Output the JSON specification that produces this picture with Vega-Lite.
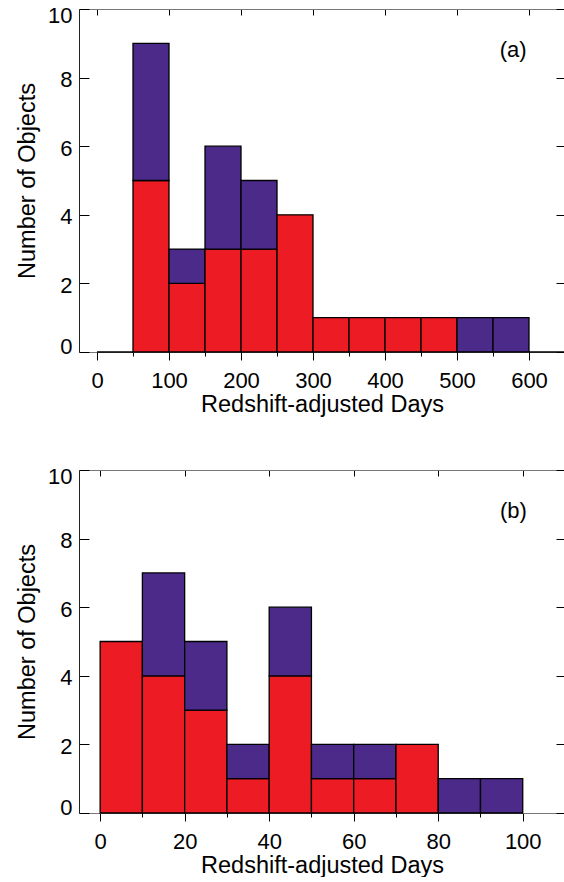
{
  "$schema": "https://vega.github.io/schema/vega-lite/v6.json",
  "background": "white",
  "padding": {"left": 15, "top": 4, "right": 0, "bottom": 0},
  "bounds": "flush",
  "spacing": 118,
  "config": {
    "view": {"stroke": null},
    "font": "Liberation Sans",
    "axis": {
      "grid": false,
      "tickColor": "black",
      "tickWidth": 1,
      "labelFont": "Liberation Sans",
      "labelFontSize": 22,
      "labelColor": "black",
      "titleFont": "Liberation Sans",
      "titleFontSize": 23.5,
      "titleFontWeight": "normal",
      "titleColor": "black"
    }
  },
  "datasets": {
    "early": [
      {"start": 0, "end": 50, "category": "red", "count": 0},
      {"start": 50, "end": 100, "category": "red", "count": 5},
      {"start": 50, "end": 100, "category": "purple", "count": 4},
      {"start": 100, "end": 150, "category": "red", "count": 2},
      {"start": 100, "end": 150, "category": "purple", "count": 1},
      {"start": 150, "end": 200, "category": "red", "count": 3},
      {"start": 150, "end": 200, "category": "purple", "count": 3},
      {"start": 200, "end": 250, "category": "red", "count": 3},
      {"start": 200, "end": 250, "category": "purple", "count": 2},
      {"start": 250, "end": 300, "category": "red", "count": 4},
      {"start": 300, "end": 350, "category": "red", "count": 1},
      {"start": 350, "end": 400, "category": "red", "count": 1},
      {"start": 400, "end": 450, "category": "red", "count": 1},
      {"start": 450, "end": 500, "category": "red", "count": 1},
      {"start": 500, "end": 550, "category": "purple", "count": 1},
      {"start": 550, "end": 600, "category": "purple", "count": 1},
      {"start": 600, "end": 650, "category": "red", "count": 0}
    ],
    "late": [
      {"start": 0, "end": 10, "category": "red", "count": 5},
      {"start": 10, "end": 20, "category": "red", "count": 4},
      {"start": 10, "end": 20, "category": "purple", "count": 3},
      {"start": 20, "end": 30, "category": "red", "count": 3},
      {"start": 20, "end": 30, "category": "purple", "count": 2},
      {"start": 30, "end": 40, "category": "red", "count": 1},
      {"start": 30, "end": 40, "category": "purple", "count": 1},
      {"start": 40, "end": 50, "category": "red", "count": 4},
      {"start": 40, "end": 50, "category": "purple", "count": 2},
      {"start": 50, "end": 60, "category": "red", "count": 1},
      {"start": 50, "end": 60, "category": "purple", "count": 1},
      {"start": 60, "end": 70, "category": "red", "count": 1},
      {"start": 60, "end": 70, "category": "purple", "count": 1},
      {"start": 70, "end": 80, "category": "red", "count": 2},
      {"start": 80, "end": 90, "category": "purple", "count": 1},
      {"start": 90, "end": 100, "category": "purple", "count": 1}
    ]
  },
  "vconcat": [
    {
      "width": 486,
      "height": 343,
      "resolve": {"axis": {"x": "independent", "y": "independent"}},
      "layer": [
        {
          "data": {"name": "early"},
          "transform": [
            {"stack": "count", "groupby": ["start"], "sort": [{"field": "category", "order": "descending"}], "as": ["low", "high"]}
          ],
          "mark": {"type": "rect", "stroke": "black", "strokeWidth": 1.3},
          "encoding": {
            "x": {
              "field": "start", "type": "quantitative",
              "scale": {"domain": [-25, 650], "nice": false, "zero": false},
              "axis": {
                "orient": "bottom",
                "values": [0, 50, 100, 150, 200, 250, 300, 350, 400, 450, 500, 550, 600],
                "labelExpr": "datum.value % 100 === 0 ? datum.label : ''",
                "tickSize": {"condition": {"test": "datum.value % 100 === 0", "value": 8}, "value": 4},
                "labelPadding": 10,
                "domainColor": "#777777",
                "title": "Redshift-adjusted Days",
                "titlePadding": 1
              }
            },
            "x2": {"field": "end"},
            "y": {
              "field": "high", "type": "quantitative",
              "scale": {"domain": [0, 10], "nice": false},
              "axis": {
                "orient": "left",
                "values": [0, 2, 4, 6, 8, 10],
                "tickSize": -10,
                "domainColor": "#222222",
                "labelPadding": 17,
                "labelOffset": {"condition": [{"test": "datum.value === 10", "value": 6}, {"test": "datum.value === 0", "value": -6}], "value": 2},
                "title": "Number of Objects",
                "titlePadding": 8
              }
            },
            "y2": {"field": "low"},
            "color": {
              "field": "category", "type": "nominal",
              "scale": {"domain": ["red", "purple"], "range": ["#ed1c24", "#4b2a8a"]},
              "legend": null
            }
          }
        },
        {
          "data": {"values": [{"x": 578, "y": 8.8, "label": "(a)"}]},
          "mark": {"type": "text", "fontSize": 22, "font": "Liberation Sans", "color": "black", "baseline": "middle", "align": "center"},
          "encoding": {
            "x": {
              "field": "x", "type": "quantitative",
              "axis": {"orient": "top", "values": [0, 100, 200, 300, 400, 500, 600], "labels": false, "tickSize": -6, "domainColor": "#777777", "title": null}
            },
            "y": {
              "field": "y", "type": "quantitative",
              "axis": {"orient": "right", "values": [0, 2, 4, 6, 8, 10], "labels": false, "tickSize": -9, "domainColor": "#777777", "title": null}
            },
            "text": {"field": "label"}
          }
        }
      ]
    },
    {
      "width": 486,
      "height": 343,
      "resolve": {"axis": {"x": "independent", "y": "independent"}},
      "layer": [
        {
          "data": {"name": "late"},
          "transform": [
            {"stack": "count", "groupby": ["start"], "sort": [{"field": "category", "order": "descending"}], "as": ["low", "high"]}
          ],
          "mark": {"type": "rect", "stroke": "black", "strokeWidth": 1.3},
          "encoding": {
            "x": {
              "field": "start", "type": "quantitative",
              "scale": {"domain": [-5, 110], "nice": false, "zero": false},
              "axis": {
                "orient": "bottom",
                "values": [0, 10, 20, 30, 40, 50, 60, 70, 80, 90, 100],
                "labelExpr": "datum.value % 20 === 0 ? datum.label : ''",
                "tickSize": {"condition": {"test": "datum.value % 20 === 0", "value": 8}, "value": 4},
                "labelPadding": 10,
                "domainColor": "#777777",
                "title": "Redshift-adjusted Days",
                "titlePadding": 1
              }
            },
            "x2": {"field": "end"},
            "y": {
              "field": "high", "type": "quantitative",
              "scale": {"domain": [0, 10], "nice": false},
              "axis": {
                "orient": "left",
                "values": [0, 2, 4, 6, 8, 10],
                "tickSize": -10,
                "domainColor": "#222222",
                "labelPadding": 17,
                "labelOffset": {"condition": [{"test": "datum.value === 10", "value": 6}, {"test": "datum.value === 0", "value": -6}], "value": 2},
                "title": "Number of Objects",
                "titlePadding": 8
              }
            },
            "y2": {"field": "low"},
            "color": {
              "field": "category", "type": "nominal",
              "scale": {"domain": ["red", "purple"], "range": ["#ed1c24", "#4b2a8a"]},
              "legend": null
            }
          }
        },
        {
          "data": {"values": [{"x": 97.8, "y": 8.8, "label": "(b)"}]},
          "mark": {"type": "text", "fontSize": 22, "font": "Liberation Sans", "color": "black", "baseline": "middle", "align": "center"},
          "encoding": {
            "x": {
              "field": "x", "type": "quantitative",
              "axis": {"orient": "top", "values": [0, 20, 40, 60, 80, 100], "labels": false, "tickSize": -6, "domainColor": "#777777", "title": null}
            },
            "y": {
              "field": "y", "type": "quantitative",
              "axis": {"orient": "right", "values": [0, 2, 4, 6, 8, 10], "labels": false, "tickSize": -9, "domainColor": "#777777", "title": null}
            },
            "text": {"field": "label"}
          }
        }
      ]
    }
  ]
}
